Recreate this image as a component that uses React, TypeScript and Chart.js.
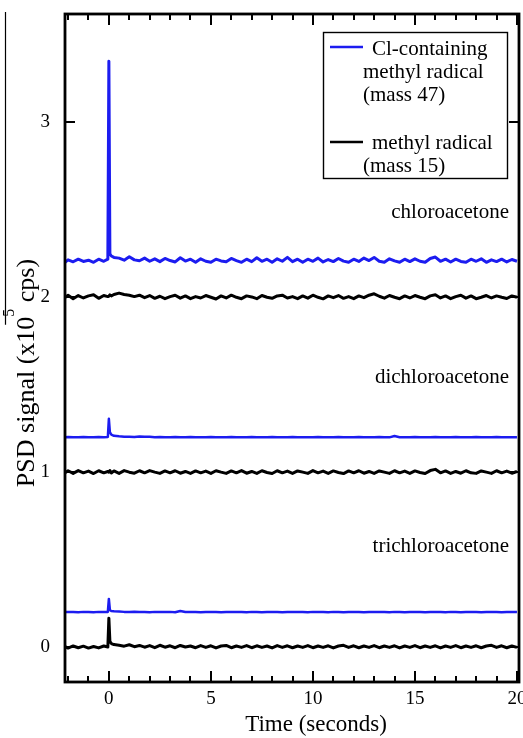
import React, { useEffect, useRef } from 'react';
import { Chart, registerables } from 'chart.js';

Chart.register(...registerables);

// ---- data ----
const times = [
  -2.15, -2.0, -1.75, -1.5, -1.25, -1.0, -0.75, -0.5, -0.25, -0.05,
  0, 0.05, 0.12, 0.25, 0.5, 0.75, 1.0, 1.25, 1.5, 1.75,
  2.0, 2.25, 2.5, 2.75, 3.0, 3.25, 3.5, 3.75, 4.0, 4.25,
  4.5, 4.75, 5.0, 5.25, 5.5, 5.75, 6.0, 6.25, 6.5, 6.75,
  7.0, 7.25, 7.5, 7.75, 8.0, 8.25, 8.5, 8.75, 9.0, 9.25,
  9.5, 9.75, 10.0, 10.25, 10.5, 10.75, 11.0, 11.25, 11.5, 11.75,
  12.0, 12.25, 12.5, 12.75, 13.0, 13.25, 13.5, 13.75, 14.0, 14.25,
  14.5, 14.75, 15.0, 15.25, 15.5, 15.75, 16.0, 16.25, 16.5, 16.75,
  17.0, 17.25, 17.5, 17.75, 18.0, 18.25, 18.5, 18.75, 19.0, 19.25,
  19.5, 19.75, 20.0,
];

// chloroacetone, mass 47 (Cl-containing methyl radical)
const chloroMass47 = [
  2.2, 2.214, 2.203, 2.218, 2.205, 2.212, 2.2, 2.218, 2.206, 2.218,
  3.35, 2.248, 2.236, 2.228, 2.224, 2.212, 2.232, 2.214, 2.209, 2.224,
  2.206, 2.22, 2.204, 2.222, 2.21, 2.202, 2.226, 2.207, 2.218, 2.2,
  2.22, 2.206, 2.2, 2.218, 2.208, 2.203, 2.222, 2.21, 2.2, 2.218,
  2.204, 2.226, 2.206, 2.218, 2.2, 2.22, 2.206, 2.228, 2.204, 2.218,
  2.2, 2.218, 2.206, 2.224, 2.202, 2.216, 2.204, 2.222, 2.207, 2.2,
  2.218, 2.205, 2.224, 2.21, 2.228, 2.206, 2.2, 2.22, 2.208, 2.2,
  2.218, 2.204, 2.22, 2.206, 2.2, 2.222, 2.23, 2.206, 2.218, 2.202,
  2.218, 2.205, 2.2, 2.218, 2.206, 2.22, 2.2, 2.214, 2.204, 2.218,
  2.202, 2.216, 2.206,
];

// chloroacetone, mass 15 (methyl radical)
const chloroMass15 = [
  1.998, 2.012, 1.992, 2.01, 1.996, 2.008, 2.014, 1.994, 2.01, 2.004,
  2.006, 2.014, 2.008, 2.016, 2.024, 2.016, 2.012, 2.004, 2.012, 1.998,
  2.01, 1.994, 2.006, 1.992, 2.004, 2.012, 1.995, 2.008, 1.992, 2.004,
  1.996, 2.01, 2.0, 1.99, 2.008, 1.996, 2.012, 2.0, 1.992, 2.008,
  2.002, 1.992, 2.01, 2.0, 1.994, 2.008, 2.012, 1.996, 2.004, 1.992,
  2.008, 1.995, 2.012, 2.0, 1.991, 2.008, 1.998, 2.01, 1.994, 2.004,
  1.992, 2.008, 1.998, 2.012, 2.02, 2.006, 1.995, 2.01, 2.0, 1.992,
  2.008, 1.996, 2.01, 2.0, 1.992, 2.008, 2.014, 1.996, 2.008, 1.992,
  2.004, 2.012, 1.995, 2.008, 1.992, 2.0, 2.01, 1.996, 2.008, 2.0,
  1.993, 2.008, 2.0,
];

// dichloroacetone, mass 47
const dichloroMass47 = [
  1.2, 1.201, 1.199, 1.2, 1.201, 1.2, 1.199, 1.201, 1.2, 1.201,
  1.305, 1.228, 1.215, 1.208, 1.205, 1.203, 1.202, 1.201, 1.204, 1.202,
  1.203, 1.2, 1.201, 1.199, 1.2, 1.201, 1.2, 1.199, 1.201, 1.2,
  1.2, 1.199, 1.201, 1.2, 1.199, 1.2, 1.201, 1.2, 1.199, 1.2,
  1.201, 1.2, 1.199, 1.2, 1.201, 1.2, 1.199, 1.2, 1.201, 1.2,
  1.199, 1.2, 1.2, 1.201, 1.199, 1.2, 1.2, 1.201, 1.2, 1.199,
  1.2, 1.201, 1.2, 1.199, 1.2, 1.201, 1.2, 1.199, 1.207, 1.2,
  1.199, 1.2, 1.201, 1.2, 1.199, 1.2, 1.201, 1.2, 1.199, 1.2,
  1.201, 1.2, 1.199, 1.2, 1.201, 1.2, 1.199, 1.2, 1.201, 1.2,
  1.199, 1.2, 1.2,
];

// dichloroacetone, mass 15
const dichloroMass15 = [
  0.996, 1.008, 0.993, 1.009, 0.996, 1.006, 0.992, 1.008, 0.996, 1.004,
  1.0, 1.009, 0.995, 1.007, 0.993, 1.009, 1.0, 0.994, 1.008, 0.996,
  1.009, 1.0, 0.993, 1.007, 0.996, 1.008, 0.994, 1.004, 0.993, 1.007,
  0.996, 1.006, 0.993, 1.008, 1.0, 0.993, 1.007, 0.996, 1.009, 0.994,
  1.004, 0.993, 1.008, 0.998, 0.992, 1.008, 0.996, 1.006, 0.993, 1.007,
  1.0, 0.993, 1.009, 0.996, 1.006, 0.993, 1.007, 0.998, 0.992, 1.007,
  0.996, 1.008, 0.994, 1.004, 0.993, 1.007, 1.0, 0.993, 1.008, 0.996,
  1.006, 0.993, 1.007, 0.998, 0.992, 1.009, 1.016, 0.996, 1.007, 0.993,
  1.004, 0.994, 1.008, 0.996, 0.993, 1.007, 1.0, 0.993, 1.008, 0.996,
  1.006, 0.994, 1.004,
];

// trichloroacetone, mass 47
const trichloroMass47 = [
  0.2, 0.201, 0.2, 0.199, 0.201, 0.2, 0.199, 0.201, 0.2, 0.201,
  0.275, 0.212, 0.206, 0.204, 0.203, 0.201, 0.2, 0.202, 0.201, 0.2,
  0.199, 0.201, 0.2, 0.2, 0.201, 0.199, 0.206, 0.2, 0.201, 0.2,
  0.199, 0.2, 0.201, 0.2, 0.199, 0.2, 0.201, 0.2, 0.2, 0.199,
  0.201, 0.2, 0.199, 0.2, 0.201, 0.2, 0.199, 0.2, 0.201, 0.2,
  0.2, 0.199, 0.201, 0.2, 0.2, 0.199, 0.201, 0.2, 0.199, 0.2,
  0.201, 0.2, 0.199, 0.2, 0.201, 0.2, 0.2, 0.199, 0.201, 0.2,
  0.199, 0.2, 0.201, 0.2, 0.199, 0.2, 0.201, 0.2, 0.199, 0.201,
  0.2, 0.199, 0.2, 0.201, 0.2, 0.199, 0.2, 0.201, 0.2, 0.199,
  0.2, 0.201, 0.2,
];

// trichloroacetone, mass 15
const trichloroMass15 = [
  0.003, -0.006, 0.006, -0.004, 0.005, -0.006, 0.003, -0.005, 0.006, 0.0,
  0.165, 0.032, 0.02, 0.014, 0.01, 0.005, 0.013, 0.002, 0.009, -0.001,
  0.008, -0.004, 0.01, -0.001, 0.007, -0.004, 0.009, 0.0, 0.006, -0.004,
  0.008, -0.002, 0.007, -0.005, 0.006, 0.009, -0.004, 0.006, -0.002, 0.008,
  -0.004, 0.007, -0.002, 0.006, -0.005, 0.008, -0.002, 0.007, -0.004, 0.006,
  -0.002, 0.008, -0.004, 0.006, -0.002, 0.007, -0.005, 0.006, 0.01, -0.002,
  0.007, -0.004, 0.006, -0.002, 0.008, -0.004, 0.006, -0.002, 0.007, -0.005,
  0.006, -0.002, 0.008, -0.004, 0.006, -0.002, 0.007, -0.005, 0.006, -0.002,
  0.008, -0.004, 0.006, -0.002, 0.007, -0.004, 0.006, 0.01, -0.002, 0.007,
  -0.004, 0.006, -0.002,
];

const xTickValues = [0, 5, 10, 15, 20];
const yTickValues = [0, 1, 2, 3];
const compoundNames = ['chloroacetone', 'dichloroacetone', 'trichloroacetone'];
const legendMass47 = ['Cl-containing', 'methyl radical', '(mass 47)'];
const legendMass15 = ['methyl radical', '(mass 15)'];
const xTitle = 'Time (seconds)';
const yTitleMain = 'PSD signal (x10';
const yTitleSup = '5';
const yTitleEnd = ' cps)';

// ---- styles ----
const SERIF = "'Liberation Serif', 'Times New Roman', Times, serif";
const BLUE = 'rgb(28,28,240)';
const BLACK = '#000000';

function toPoints(values: number[]) {
  return times.map((t, i) => ({ x: t, y: values[i] }));
}

const decorPlugin = {
  id: 'decor',
  beforeDatasetsDraw(chart: any) {
    const { ctx, chartArea: a, scales } = chart;
    const x = scales.x;
    const y = scales.y;
    ctx.save();
    ctx.strokeStyle = BLACK;
    ctx.lineWidth = 2;
    ctx.beginPath();
    for (let v = -2; v <= 20; v++) {
      const px = Math.round(x.getPixelForValue(v));
      const len = v % 5 === 0 ? 11 : 6;
      ctx.moveTo(px, a.bottom);
      ctx.lineTo(px, a.bottom - len);
      ctx.moveTo(px, a.top);
      ctx.lineTo(px, a.top + len);
    }
    for (const v of yTickValues) {
      const py = Math.round(y.getPixelForValue(v));
      ctx.moveTo(a.left, py);
      ctx.lineTo(a.left + 10, py);
      ctx.moveTo(a.right, py);
      ctx.lineTo(a.right - 10, py);
    }
    ctx.stroke();
    ctx.restore();
  },
  afterDatasetsDraw(chart: any) {
    const { ctx, chartArea: a } = chart;
    ctx.save();
    // frame
    ctx.strokeStyle = BLACK;
    ctx.lineWidth = 2.8;
    ctx.strokeRect(a.left, a.top, a.right - a.left, a.bottom - a.top);

    // compound labels
    ctx.fillStyle = BLACK;
    ctx.font = `21px ${SERIF}`;
    ctx.textAlign = 'right';
    ctx.textBaseline = 'alphabetic';
    const labelBaselines = [218, 383, 552];
    compoundNames.forEach((name, i) => {
      ctx.fillText(name, 509, labelBaselines[i]);
    });

    // legend box
    ctx.fillStyle = '#ffffff';
    ctx.fillRect(323, 32, 184, 146);
    ctx.strokeStyle = BLACK;
    ctx.lineWidth = 1.4;
    ctx.strokeRect(323.5, 32.5, 184, 146);
    ctx.lineWidth = 2.5;
    ctx.strokeStyle = BLUE;
    ctx.beginPath();
    ctx.moveTo(330, 47);
    ctx.lineTo(363, 47);
    ctx.stroke();
    ctx.strokeStyle = BLACK;
    ctx.beginPath();
    ctx.moveTo(330, 142);
    ctx.lineTo(363, 142);
    ctx.stroke();
    ctx.fillStyle = BLACK;
    ctx.textAlign = 'left';
    ctx.font = `21px ${SERIF}`;
    ctx.fillText(legendMass47[0], 372, 55);
    ctx.fillText(legendMass47[1], 363, 78);
    ctx.fillText(legendMass47[2], 363, 101);
    ctx.fillText(legendMass15[0], 372, 149);
    ctx.fillText(legendMass15[1], 363, 172);

    // x title
    ctx.font = `23px ${SERIF}`;
    ctx.textAlign = 'center';
    ctx.fillText(xTitle, 316, 731);

    // y title with superscript
    const f1 = `26px ${SERIF}`;
    const f2 = `16px ${SERIF}`;
    ctx.font = f1;
    const w1 = ctx.measureText(yTitleMain).width;
    const w3 = ctx.measureText(yTitleEnd).width;
    ctx.font = f2;
    const w2 = ctx.measureText(yTitleSup).width;
    const total = w1 + w2 + w3;
    const cy = 373;
    const s = -total / 2;
    ctx.save();
    ctx.translate(34, cy);
    ctx.rotate(-Math.PI / 2);
    ctx.textAlign = 'left';
    ctx.textBaseline = 'alphabetic';
    ctx.font = f1;
    ctx.fillText(yTitleMain, s, 0);
    ctx.font = f2;
    ctx.fillText(yTitleSup, s + w1, -20);
    ctx.font = f1;
    ctx.fillText(yTitleEnd, s + w1 + w2, 0);
    ctx.restore();

    // thin vertical rule beside the title
    const supY = cy - (s + w1);
    ctx.strokeStyle = BLACK;
    ctx.lineWidth = 1.2;
    ctx.beginPath();
    ctx.moveTo(5.5, 12);
    ctx.lineTo(5.5, supY + 8);
    ctx.stroke();
    ctx.restore();
  },
};

export default function App() {
  const canvasRef = useRef<HTMLCanvasElement | null>(null);

  useEffect(() => {
    if (!canvasRef.current) return;
    const mk = (label: string, values: number[], color: string, width: number) => ({
      label,
      data: toPoints(values),
      borderColor: color,
      backgroundColor: color,
      borderWidth: width,
      pointRadius: 0,
      tension: 0,
      fill: false,
      borderJoinStyle: 'round' as const,
    });
    const chart = new Chart(canvasRef.current, {
      type: 'line',
      data: {
        datasets: [
          mk('chloroacetone mass 15', chloroMass15, BLACK, 3),
          mk('chloroacetone mass 47', chloroMass47, BLUE, 3),
          mk('dichloroacetone mass 15', dichloroMass15, BLACK, 3),
          mk('dichloroacetone mass 47', dichloroMass47, BLUE, 2.5),
          mk('trichloroacetone mass 15', trichloroMass15, BLACK, 3),
          mk('trichloroacetone mass 47', trichloroMass47, BLUE, 2.5),
        ],
      },
      options: {
        animation: false,
        responsive: false,
        events: [],
        layout: { padding: { top: 14, right: 4, left: 0, bottom: 0 } },
        plugins: {
          legend: { display: false },
          tooltip: { enabled: false },
          title: { display: false },
        },
        scales: {
          x: {
            type: 'linear',
            min: -2.15,
            max: 20.1,
            grid: { display: false, drawTicks: false },
            border: { display: false },
            ticks: {
              font: { family: SERIF, size: 19 },
              color: BLACK,
              padding: 6,
              maxRotation: 0,
              autoSkip: false,
            },
            afterBuildTicks: (s: any) => {
              s.ticks = xTickValues.map((v) => ({ value: v }));
            },
            afterFit: (s: any) => {
              s.height = 56;
              s.paddingLeft = 0;
              s.paddingRight = 0;
            },
          },
          y: {
            type: 'linear',
            min: -0.2,
            max: 3.62,
            grid: { display: false, drawTicks: false },
            border: { display: false },
            ticks: {
              font: { family: SERIF, size: 19 },
              color: BLACK,
              padding: 15,
            },
            afterBuildTicks: (s: any) => {
              s.ticks = yTickValues.map((v) => ({ value: v }));
            },
            afterFit: (s: any) => {
              s.width = 65;
              s.paddingTop = 0;
              s.paddingBottom = 0;
            },
          },
        },
      },
      plugins: [decorPlugin],
    } as any);
    return () => chart.destroy();
  }, []);

  return (
    <div style={{ position: 'absolute', left: 0, top: 0, width: 523, height: 738, background: '#fff' }}>
      <canvas ref={canvasRef} width={523} height={738} style={{ display: 'block' }} />
    </div>
  );
}
